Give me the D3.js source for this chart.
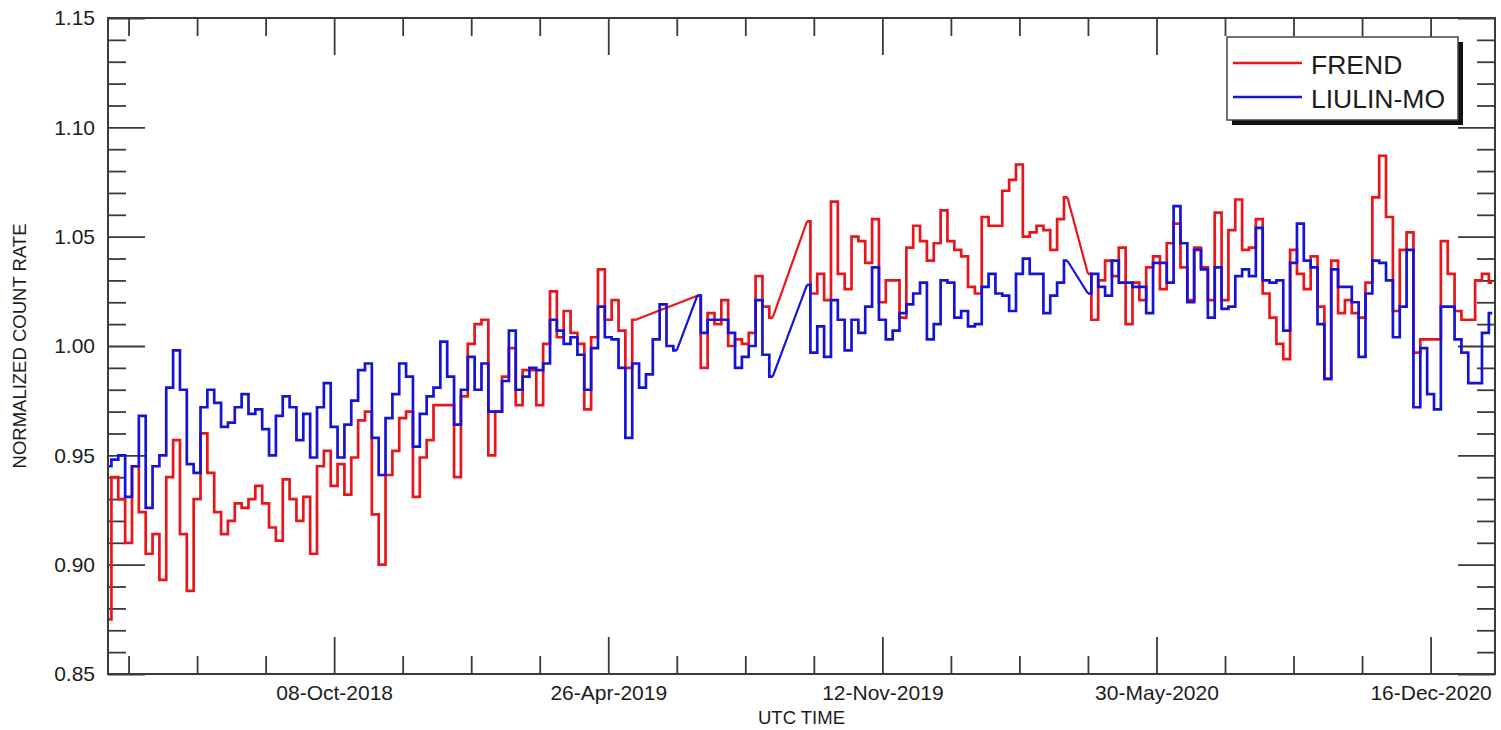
<!DOCTYPE html>
<html><head><meta charset="utf-8">
<script src="https://cdn.jsdelivr.net/npm/d3@7"></script>
<style>html,body{margin:0;padding:0;background:#fff;} svg{display:block;}</style>
</head><body>
<svg id="chart" width="1501" height="730"></svg>
<script>
// ---------------- DATA ----------------
const sampleStart = "2018-04-26";   // first sample
const sampleStepDays = 5;           // one value every 5 days (null = no data)
const frend = [
  0.875,0.940,0.930,0.910,0.945,0.924,0.905,0.914,0.893,0.940,
  0.957,0.914,0.888,0.930,0.960,0.942,0.924,0.914,0.920,0.928,
  0.926,0.930,0.936,0.928,0.917,0.911,0.939,0.930,0.920,0.931,
  0.905,0.945,0.952,0.936,0.946,0.932,0.949,0.966,0.970,0.923,
  0.900,0.941,0.952,0.967,0.970,0.931,0.949,0.957,0.973,0.973,
  0.973,0.940,0.977,1.001,1.010,1.012,0.950,0.970,0.986,0.999,
  0.973,0.989,0.989,0.973,1.001,1.025,1.004,1.016,1.006,1.001,
  0.971,1.004,1.035,1.012,1.021,1.007,0.990,1.012,null,null,
  null,null,null,null,null,null,1.023,0.990,1.015,1.010,
  1.021,1.000,1.003,1.001,1.006,1.032,1.018,1.013,null,null,
  null,null,1.057,1.024,1.033,1.021,1.066,1.033,1.026,1.050,
  1.048,1.038,1.058,1.020,1.030,1.030,1.013,1.045,1.055,1.048,
  1.039,1.047,1.062,1.048,1.044,1.041,1.027,1.024,1.059,1.055,
  1.055,1.071,1.076,1.083,1.050,1.052,1.055,1.053,1.044,1.058,
  1.068,null,null,1.033,1.012,1.030,1.039,1.032,1.045,1.010,
  1.029,1.021,1.036,1.041,1.026,1.047,1.056,1.036,1.021,1.045,
  1.036,1.021,1.061,1.021,1.053,1.067,1.044,1.045,1.058,1.024,
  1.013,1.001,0.994,1.044,1.033,1.026,1.041,1.018,0.985,1.039,
  1.015,1.021,1.015,1.013,1.029,1.068,1.087,1.059,1.016,1.044,
  1.052,0.997,1.003,1.003,1.003,1.048,1.033,1.016,1.012,1.012,
  1.030,1.033,1.029
];
const liulin = [
  0.945,0.948,0.950,0.931,0.945,0.968,0.926,0.945,0.950,0.981,
  0.998,0.980,0.946,0.942,0.972,0.980,0.974,0.963,0.965,0.972,
  0.978,0.969,0.971,0.962,0.950,0.968,0.977,0.972,0.957,0.969,
  0.949,0.972,0.983,0.963,0.949,0.964,0.975,0.989,0.992,0.958,
  0.941,0.967,0.978,0.992,0.986,0.954,0.969,0.977,0.981,1.002,
  0.986,0.964,0.980,0.995,0.980,0.992,0.970,0.970,0.984,1.007,
  0.980,0.986,0.990,0.989,0.992,1.012,1.007,1.001,1.004,0.996,
  0.980,0.999,1.018,1.004,1.003,0.990,0.958,0.992,0.981,0.987,
  1.003,1.019,1.000,0.998,null,null,1.023,1.006,1.012,1.012,
  1.012,1.006,0.990,0.995,1.000,1.021,0.996,0.986,null,null,
  null,null,1.028,0.997,1.009,0.995,1.021,1.012,0.998,1.012,
  1.006,1.018,1.036,1.012,1.003,1.007,1.015,1.019,1.024,1.029,
  1.003,1.010,1.030,1.029,1.013,1.016,1.009,1.010,1.027,1.033,
  1.024,1.023,1.016,1.033,1.040,1.033,1.033,1.015,1.023,1.029,
  1.039,null,null,1.024,1.033,1.027,1.023,1.039,1.029,1.029,
  1.027,1.027,1.015,1.038,1.038,1.029,1.064,1.047,1.020,1.044,
  1.035,1.013,1.036,1.017,1.018,1.032,1.035,1.032,1.054,1.030,
  1.029,1.030,1.007,1.038,1.056,1.039,1.036,1.010,0.985,1.035,
  1.027,1.027,1.020,0.995,1.024,1.039,1.038,1.030,1.004,1.018,
  1.044,0.972,0.999,0.978,0.971,1.018,1.018,1.003,0.997,0.983,
  0.983,1.006,1.015
];
const seriesNames = ["FREND", "LIULIN-MO"];
const xTickLabels = ["08-Oct-2018", "26-Apr-2019", "12-Nov-2019", "30-May-2020", "16-Dec-2020"];
const xMinorStepDays = 50;
const xDomain = ["2018-04-26", "2021-02-01"];
const yTickValues = [0.85, 0.90, 0.95, 1.00, 1.05, 1.10, 1.15];
const yDomain = [0.85, 1.15];
const xTitle = "UTC TIME";
const yTitle = "NORMALIZED COUNT RATE";

// ---------------- LAYOUT ----------------
const L = 108, R = 1495, T = 18, B = 674;
const colors = ["#e8161a", "#1414d6"];
const axisColor = "#3a3a3a";
const font = "'Liberation Sans', Arial, Helvetica, sans-serif";

const parse = d3.utcParse("%Y-%m-%d");
const parseLabel = d3.utcParse("%d-%b-%Y");
const fmtLabel = d3.utcFormat("%d-%b-%Y");
const start = parse(sampleStart);

const x = d3.scaleUtc().domain(xDomain.map(parse)).range([L, R]);
const y = d3.scaleLinear().domain(yDomain).range([B, T]);

const svg = d3.select("#chart");
svg.append("rect").attr("width", 1501).attr("height", 730).attr("fill", "#fff");

svg.append("defs").append("clipPath").attr("id", "clip")
  .append("rect").attr("x", L).attr("y", T).attr("width", R - L).attr("height", B - T);

// ticks
const xMajor = xTickLabels.map(parseLabel);
const [d0, d1] = x.domain();
const xMinor = [];
for (let k = -20; k <= 40; k++) {
  const d = d3.utcDay.offset(xMajor[0], k * xMinorStepDays);
  if (d > d0 && d < d1 && !xMajor.some(m => +m === +d)) xMinor.push(d);
}
const yMinor = d3.range(86, 115).map(v => v / 100).filter(v => !yTickValues.some(t => Math.abs(t - v) < 1e-6));

function styleAxis(g) {
  g.select(".domain").remove();
  g.selectAll(".tick line").attr("stroke", axisColor).attr("stroke-width", 1.8);
  g.selectAll("text").attr("fill", "#1c1c1c").attr("font-family", font).attr("font-size", 21);
}

// bottom
svg.append("g").attr("transform", `translate(0,${B})`)
  .call(d3.axisBottom(x).tickValues(xMajor).tickSize(-37).tickPadding(11).tickFormat(fmtLabel)).call(styleAxis);
svg.append("g").attr("transform", `translate(0,${B})`)
  .call(d3.axisBottom(x).tickValues(xMinor).tickSize(-18).tickFormat("")).call(styleAxis);
// top
svg.append("g").attr("transform", `translate(0,${T})`)
  .call(d3.axisTop(x).tickValues(xMajor).tickSize(-37).tickFormat("")).call(styleAxis);
svg.append("g").attr("transform", `translate(0,${T})`)
  .call(d3.axisTop(x).tickValues(xMinor).tickSize(-18).tickFormat("")).call(styleAxis);
// left
svg.append("g").attr("transform", `translate(${L},0)`)
  .call(d3.axisLeft(y).tickValues(yTickValues).tickSize(-37).tickPadding(13).tickFormat(d3.format(".2f"))).call(styleAxis);
svg.append("g").attr("transform", `translate(${L},0)`)
  .call(d3.axisLeft(y).tickValues(yMinor).tickSize(-18).tickFormat("")).call(styleAxis);
// right
svg.append("g").attr("transform", `translate(${R},0)`)
  .call(d3.axisRight(y).tickValues(yTickValues).tickSize(-37).tickFormat("")).call(styleAxis);
svg.append("g").attr("transform", `translate(${R},0)`)
  .call(d3.axisRight(y).tickValues(yMinor).tickSize(-18).tickFormat("")).call(styleAxis);

// series
function runsOf(values) {
  const pts = values.map((v, i) => ({ date: d3.utcDay.offset(start, i * sampleStepDays), v, i }))
    .filter(p => p.v != null);
  const runs = []; let cur = [];
  pts.forEach((p, k) => {
    if (k > 0 && p.i - pts[k - 1].i > 1) { runs.push(cur); cur = []; }
    cur.push(p);
  });
  runs.push(cur);
  return runs;
}
const stepLine = d3.line().x(d => x(d.date)).y(d => y(d.v)).curve(d3.curveStep);
const straight = d3.line().x(d => x(d.date)).y(d => y(d.v));

const plot = svg.append("g").attr("clip-path", "url(#clip)");
[frend, liulin].forEach((vals, s) => {
  const runs = runsOf(vals);
  const g = plot.append("g").attr("fill", "none").attr("stroke", colors[s])
    .attr("stroke-width", 2.7).attr("stroke-linejoin", "miter");
  runs.forEach((run, k) => {
    g.append("path").attr("d", stepLine(run));
    if (k < runs.length - 1) {
      g.append("path").attr("d", straight([run[run.length - 1], runs[k + 1][0]])).attr("stroke-width", 2.2);
    }
  });
});

// frame
svg.append("rect").attr("x", L).attr("y", T).attr("width", R - L).attr("height", B - T)
  .attr("fill", "none").attr("stroke", axisColor).attr("stroke-width", 2);

// titles
svg.append("text").attr("x", (L + R) / 2).attr("y", 724).attr("text-anchor", "middle")
  .attr("font-family", font).attr("font-size", 18.5).attr("fill", "#1c1c1c").text(xTitle);
svg.append("text").attr("transform", `translate(26,${(T + B) / 2}) rotate(-90)`).attr("text-anchor", "middle")
  .attr("font-family", font).attr("font-size", 18.5).attr("fill", "#1c1c1c").text(yTitle);

// legend
const lg = svg.append("g");
lg.append("rect").attr("x", 1232).attr("y", 42).attr("width", 231).attr("height", 83).attr("fill", "#111");
lg.append("rect").attr("x", 1227).attr("y", 37).attr("width", 231).attr("height", 83)
  .attr("fill", "#fff").attr("stroke", "#444").attr("stroke-width", 1.5);
seriesNames.forEach((name, i) => {
  const ly = 63 + i * 34;
  lg.append("line").attr("x1", 1233).attr("x2", 1302).attr("y1", ly).attr("y2", ly)
    .attr("stroke", colors[i]).attr("stroke-width", 2.6);
  lg.append("text").attr("x", 1311).attr("y", ly + 10.5).attr("font-family", font)
    .attr("font-size", 26.5).attr("fill", "#1c1c1c").text(name);
});
</script>
</body></html>
